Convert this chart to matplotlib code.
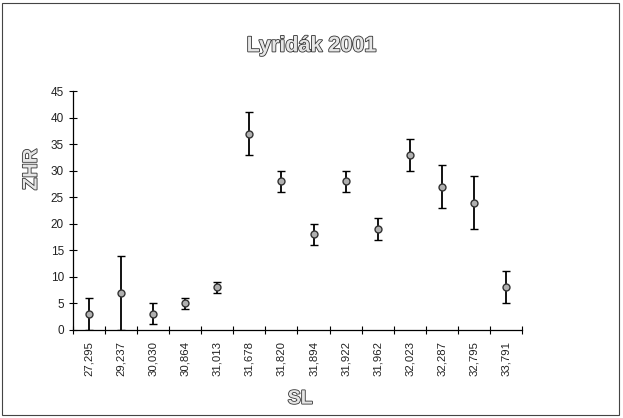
import matplotlib.pyplot as plt
import matplotlib.patheffects as pe
from matplotlib.patches import Rectangle
import numpy as np

plt.rcParams['font.family'] = ['Liberation Sans', 'DejaVu Sans']

sl = ["27,295", "29,237", "30,030", "30,864", "31,013", "31,678", "31,820",
      "31,894", "31,922", "31,962", "32,023", "32,287", "32,795", "33,791"]
zhr = [3, 7, 3, 5, 8, 37, 28, 18, 28, 19, 33, 27, 24, 8]
err = [3, 7, 2, 1, 1, 4, 2, 2, 2, 2, 3, 4, 5, 3]

fig = plt.figure(figsize=(6.23, 4.18), dpi=100)
ax = fig.add_axes([0.117, 0.211, 0.721, 0.571])

x = np.arange(len(sl))
ax.errorbar(x, zhr, yerr=err, fmt='o', color='black', ecolor='black',
            elinewidth=1.3, capsize=3, capthick=1.5,
            markersize=5, markerfacecolor='#b0b0b0', markeredgecolor='#333333',
            markeredgewidth=1)

ax.set_xlim(-0.5, len(sl) - 0.5)
ax.set_ylim(0, 45)
ax.set_yticks(range(0, 50, 5))
ax.set_xticks(x)
ax.set_xticklabels(sl, rotation=90, fontsize=8.2, color='#222222')
ax.set_xticks(np.arange(-0.5, len(sl), 1), minor=True)
ax.tick_params(axis='x', which='major', length=0, pad=8)
ax.tick_params(axis='x', which='minor', direction='inout', length=6, width=0.8)
ax.tick_params(axis='y', direction='inout', length=6, width=0.8, labelsize=8.5,
               labelcolor='#222222')
ax.spines['top'].set_visible(False)
ax.spines['right'].set_visible(False)
ax.spines['left'].set_linewidth(0.9)
ax.spines['bottom'].set_linewidth(0.9)

outline = [pe.withStroke(linewidth=1.2, foreground='#333333')]
fig.text(0.5, 0.89, "Lyridák 2001", ha='center', va='center', fontsize=15.5,
         fontweight='bold', color='#e6e6e6', path_effects=outline)
fig.text(0.05, 0.595, "ZHR", ha='center', va='center', rotation=90,
         fontsize=14.5, fontweight='bold', color='#e6e6e6', path_effects=outline)
fig.text(0.482, 0.045, "SL", ha='center', va='center', fontsize=14,
         fontweight='bold', color='#e6e6e6', path_effects=outline)

fig.patches.append(Rectangle((0.004, 0.008), 0.99, 0.985, transform=fig.transFigure,
                             fill=False, edgecolor='#444444', linewidth=0.8))

fig.savefig("out.png", dpi=100)
